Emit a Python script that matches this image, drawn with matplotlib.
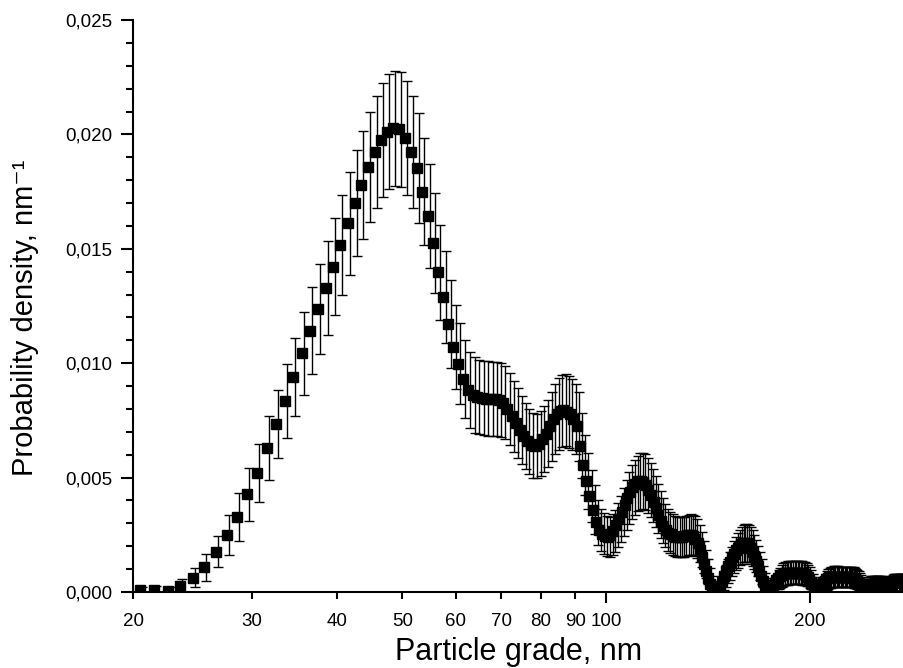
import matplotlib
matplotlib.use("Agg")
import matplotlib.pyplot as plt
import matplotlib.transforms as mtransforms
from matplotlib.ticker import FixedLocator, FuncFormatter, MultipleLocator
import numpy as np

plt.rcParams['font.family'] = ['Liberation Sans', 'DejaVu Sans']

# particle size bins (1 nm wide, centre of first bin 20.5 nm)
bin_start = 20.5
bin_width = 1.0

# probability density, nm^-1
density = [
    0.00007, 0.00010, 0.00006, 0.00026, 0.00063, 0.00108, 0.00176, 0.00248, 0.00329, 0.00428,
    0.00521, 0.00629, 0.00734, 0.00836, 0.00941, 0.01043, 0.01142, 0.01237, 0.01330, 0.01422,
    0.01517, 0.01611, 0.01699, 0.01778, 0.01859, 0.01924, 0.01976, 0.02012, 0.02027, 0.02022,
    0.01986, 0.01924, 0.01852, 0.01750, 0.01645, 0.01524, 0.01397, 0.01291, 0.01171, 0.01072,
    0.00997, 0.00930, 0.00883, 0.00861, 0.00852, 0.00848, 0.00845, 0.00844, 0.00842, 0.00839,
    0.00828, 0.00801, 0.00768, 0.00738, 0.00708, 0.00682, 0.00658, 0.00642, 0.00638, 0.00648,
    0.00668, 0.00692, 0.00725, 0.00755, 0.00778, 0.00790, 0.00795, 0.00788, 0.00776, 0.00755,
    0.00725, 0.00640, 0.00555, 0.00485, 0.00420, 0.00360, 0.00305, 0.00272, 0.00255, 0.00245,
    0.00242, 0.00250, 0.00268, 0.00292, 0.00320, 0.00350, 0.00380, 0.00410, 0.00436, 0.00458,
    0.00474, 0.00483, 0.00485, 0.00480, 0.00466, 0.00446, 0.00422, 0.00395, 0.00366, 0.00338,
    0.00312, 0.00290, 0.00272, 0.00260, 0.00252, 0.00246, 0.00242, 0.00240, 0.00240, 0.00242,
    0.00245, 0.00248, 0.00250, 0.00249, 0.00244, 0.00232, 0.00212, 0.00185, 0.00155, 0.00122,
    0.00090, 0.00060, 0.00036, 0.00018, 0.00008, 0.00006, 0.00012, 0.00028, 0.00048, 0.00070,
    0.00092, 0.00113, 0.00133, 0.00152, 0.00168, 0.00182, 0.00194, 0.00203, 0.00210, 0.00214,
    0.00215, 0.00212, 0.00204, 0.00192, 0.00176, 0.00157, 0.00136, 0.00113, 0.00090, 0.00068,
    0.00047, 0.00030, 0.00017, 0.00009, 0.00008, 0.00014, 0.00026, 0.00040, 0.00053, 0.00063,
    0.00071, 0.00076, 0.00079, 0.00081, 0.00083, 0.00084, 0.00084, 0.00085, 0.00085, 0.00085,
    0.00085, 0.00084, 0.00084, 0.00083, 0.00082, 0.00080, 0.00077, 0.00072, 0.00064, 0.00054,
    0.00043, 0.00033, 0.00025, 0.00020, 0.00018, 0.00018, 0.00020, 0.00025, 0.00033, 0.00042,
    0.00050, 0.00057, 0.00061, 0.00064, 0.00066, 0.00067, 0.00067, 0.00067, 0.00067, 0.00066,
    0.00066, 0.00066, 0.00066, 0.00066, 0.00066, 0.00066, 0.00066, 0.00066, 0.00065, 0.00065,
    0.00064, 0.00062, 0.00059, 0.00055, 0.00050, 0.00044, 0.00038, 0.00032, 0.00027, 0.00024,
    0.00023, 0.00024, 0.00028, 0.00032, 0.00035, 0.00036, 0.00037, 0.00037, 0.00037, 0.00037,
    0.00037, 0.00036, 0.00036, 0.00036, 0.00035, 0.00033, 0.00030, 0.00027, 0.00025, 0.00025,
    0.00027, 0.00031, 0.00035, 0.00039, 0.00041, 0.00042, 0.00042, 0.00042, 0.00042, 0.00042,
    0.00042, 0.00042, 0.00042, 0.00042, 0.00042, 0.00042, 0.00042,
]

# error bar half-heights
errors = [
    0.00015, 0.00018, 0.00014, 0.00029, 0.00040, 0.00060, 0.00068, 0.00087, 0.00104, 0.00116,
    0.00128, 0.00141, 0.00150, 0.00161, 0.00170, 0.00180, 0.00189, 0.00195, 0.00205, 0.00213,
    0.00220, 0.00225, 0.00231, 0.00236, 0.00241, 0.00246, 0.00249, 0.00251, 0.00252, 0.00252,
    0.00249, 0.00246, 0.00241, 0.00234, 0.00227, 0.00219, 0.00209, 0.00201, 0.00192, 0.00183,
    0.00177, 0.00171, 0.00166, 0.00164, 0.00163, 0.00163, 0.00163, 0.00163, 0.00162, 0.00162,
    0.00161, 0.00158, 0.00155, 0.00152, 0.00149, 0.00146, 0.00144, 0.00142, 0.00141, 0.00142,
    0.00145, 0.00147, 0.00151, 0.00154, 0.00156, 0.00157, 0.00158, 0.00157, 0.00156, 0.00154,
    0.00151, 0.00142, 0.00132, 0.00123, 0.00115, 0.00106, 0.00098, 0.00092, 0.00089, 0.00088,
    0.00087, 0.00089, 0.00092, 0.00096, 0.00100, 0.00105, 0.00109, 0.00113, 0.00117, 0.00120,
    0.00122, 0.00123, 0.00123, 0.00123, 0.00121, 0.00118, 0.00115, 0.00111, 0.00107, 0.00103,
    0.00099, 0.00095, 0.00092, 0.00090, 0.00089, 0.00088, 0.00087, 0.00087, 0.00087, 0.00087,
    0.00088, 0.00088, 0.00089, 0.00088, 0.00087, 0.00085, 0.00081, 0.00076, 0.00070, 0.00062,
    0.00053, 0.00043, 0.00034, 0.00024, 0.00016, 0.00014, 0.00019, 0.00030, 0.00039, 0.00047,
    0.00054, 0.00060, 0.00065, 0.00069, 0.00073, 0.00076, 0.00078, 0.00080, 0.00081, 0.00082,
    0.00082, 0.00081, 0.00080, 0.00078, 0.00074, 0.00070, 0.00065, 0.00060, 0.00053, 0.00046,
    0.00038, 0.00031, 0.00023, 0.00017, 0.00016, 0.00021, 0.00029, 0.00035, 0.00041, 0.00044,
    0.00047, 0.00049, 0.00050, 0.00050, 0.00051, 0.00051, 0.00051, 0.00052, 0.00052, 0.00052,
    0.00052, 0.00051, 0.00051, 0.00051, 0.00051, 0.00050, 0.00049, 0.00047, 0.00045, 0.00041,
    0.00037, 0.00032, 0.00028, 0.00025, 0.00024, 0.00024, 0.00025, 0.00028, 0.00032, 0.00036,
    0.00040, 0.00042, 0.00044, 0.00045, 0.00045, 0.00046, 0.00046, 0.00046, 0.00046, 0.00045,
    0.00045, 0.00045, 0.00045, 0.00045, 0.00045, 0.00045, 0.00045, 0.00045, 0.00045, 0.00045,
    0.00045, 0.00044, 0.00043, 0.00042, 0.00040, 0.00037, 0.00035, 0.00032, 0.00029, 0.00027,
    0.00027, 0.00027, 0.00030, 0.00032, 0.00033, 0.00034, 0.00034, 0.00034, 0.00034, 0.00034,
    0.00034, 0.00034, 0.00034, 0.00034, 0.00033, 0.00032, 0.00031, 0.00029, 0.00028, 0.00028,
    0.00029, 0.00031, 0.00033, 0.00035, 0.00036, 0.00036, 0.00036, 0.00036, 0.00036, 0.00036,
    0.00036, 0.00036, 0.00036, 0.00036, 0.00036, 0.00036, 0.00036,
]

xticks_minor = [20, 30, 40, 50, 60, 70, 80, 90]
xticks_major = [100, 200]

assert len(density) == len(errors)
size = bin_start + bin_width * np.arange(len(density))

fig = plt.figure(figsize=(9.04, 6.68), dpi=100)
ax = fig.add_axes([133 / 904, 76 / 668, 771 / 904, 572 / 668])

eb = ax.errorbar(size, density, yerr=errors, fmt='none', ecolor='black',
                 elinewidth=1.0, capsize=3.8, capthick=1.0, zorder=2)
# error bars in the original sit a couple of pixels right of the squares
shift = mtransforms.ScaledTranslation(1.5 / 72, 0, fig.dpi_scale_trans)
for art in list(eb[1]) + list(eb[2]):
    art.set_transform(ax.transData + shift)

ax.plot(size, density, 's', color='black', markersize=7.5, zorder=3)

ax.set_xscale('log')
ax.set_xlim(20, 275.5)
ax.set_ylim(0, 0.025)

for s in ['top', 'right']:
    ax.spines[s].set_visible(False)
for s in ['left', 'bottom']:
    ax.spines[s].set_linewidth(1.5)

comma = FuncFormatter(lambda v, p: f'{v:.3f}'.replace('.', ','))
ax.yaxis.set_major_locator(MultipleLocator(0.005))
ax.yaxis.set_minor_locator(MultipleLocator(0.001))
ax.yaxis.set_major_formatter(comma)

ax.xaxis.set_major_locator(FixedLocator(xticks_major))
ax.xaxis.set_minor_locator(FixedLocator(xticks_minor))
ax.xaxis.set_major_formatter(FuncFormatter(lambda v, p: f'{v:.0f}'))
ax.xaxis.set_minor_formatter(FuncFormatter(lambda v, p: f'{v:.0f}'))

ax.tick_params(axis='y', which='major', direction='out', length=9, width=1.5,
               pad=6, labelsize=13.5)
ax.tick_params(axis='y', which='minor', direction='out', length=5, width=1.5)
ax.tick_params(axis='x', which='major', direction='out', length=8, width=1.5,
               pad=7, labelsize=13.5)
ax.tick_params(axis='x', which='minor', direction='out', length=5, width=1.5,
               pad=10, labelsize=13.5)

ax.set_xlabel('Particle grade, nm', fontsize=22, labelpad=5)
ax.set_ylabel('Probability density, nm\u207b\u00b9', fontsize=21)
ax.yaxis.set_label_coords(-0.122, 0.48)

fig.savefig('out.png', dpi=100)
